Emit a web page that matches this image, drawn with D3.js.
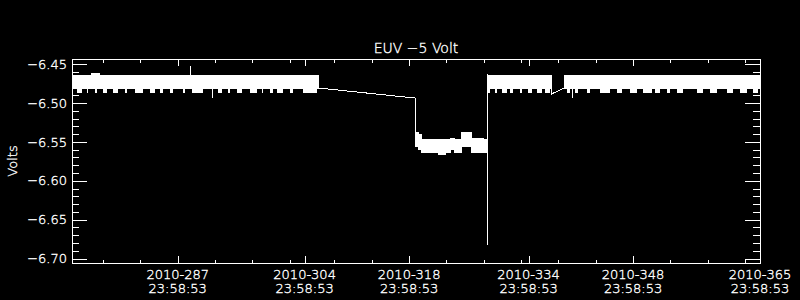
<!DOCTYPE html>
<html><head><meta charset="utf-8">
<script src="https://cdn.jsdelivr.net/npm/d3@7"></script>
<style>
body{margin:0;background:#000}
svg{display:block}
text{font-family:"DejaVu Sans",sans-serif;font-weight:200;fill:#fff;stroke:#fff;stroke-width:0.35px}
</style>
</head><body>
<svg id="c" width="800" height="300"></svg>
<script>
// ---------------- data ----------------
const title = "EUV \u22125 Volt";
const yLabel = "Volts";
const yDomain = [-6.7057, -6.4434];
const yMajor = [-6.70, -6.65, -6.60, -6.55, -6.50, -6.45];
const yMinor = [-6.69,-6.68,-6.67,-6.66,-6.64,-6.63,-6.62,-6.61,-6.59,-6.58,-6.57,-6.56,
                -6.54,-6.53,-6.52,-6.51,-6.49,-6.48,-6.47,-6.46];
const xStartDay = 273.84;                 // 2010 day-of-year at left edge
const xEndDay = 365;                      // right edge = 2010-365 23:58:53
const xMajorDays = [287, 304, 318, 334, 348, 365];
const xMinorDays = [277, 282, 292, 297, 302, 308, 313, 323, 328, 333, 338, 343, 353, 358, 363];

// envelope of the dense record: day-of-year (fractional), upper value, lower value (null = gap)
const bandDay = [273.84, 276.39, 277.46, 306.83, null,
                 319.79, 320.32, 320.59, 322.87, 323.81, 324.48, 325.01, 325.95, 326.62, 326.75, 327.29, 328.90, 329.47, null,
                 329.47, 338.07, null,
                 339.75, 365.999];
const bandHi = [-6.4649, -6.4623, -6.4649, -6.4649, null,
                -6.5373, -6.5407, -6.5472, -6.5472, -6.5472, -6.5450, -6.5472, -6.5373, -6.5429, -6.5373, -6.5450, -6.5472, -6.5472, null,
                -6.4649, -6.4649, null,
                -6.4649, -6.4649];
const bandLo = [-6.4815, -6.4815, -6.4815, -6.4815, null,
                -6.5558, -6.5600, -6.5635, -6.5665, -6.5635, -6.5600, -6.5635, -6.5558, -6.5558, -6.5558, -6.5635, -6.5635, -6.5635, null,
                -6.4815, -6.4815, null,
                -6.4815, -6.4815];

// stretches where the ragged lower edge of the upper band reaches further down
const fuzzStart = [274.47, 275.81, 276.92, 278.03, 279.37, 280.94, 282.28, 284.29, 285.63, 286.97, 288.75, 289.87,
                   293.44, 294.78, 295.90, 297.68, 299.25, 300.36, 301.26, 303.04, 304.82,
                   329.61, 330.50, 331.40, 332.51, 333.85, 334.97, 336.09, 337.20,
                   340.11, 341.22, 342.79, 344.57, 346.81, 348.59, 350.37, 351.94, 353.50, 354.84,
                   357.52, 359.31, 361.54, 363.32, 365.11];
const fuzzEnd   = [275.14, 276.02, 277.15, 278.49, 280.04, 281.17, 283.39, 284.96, 286.08, 287.41, 288.98, 291.43,
                   293.89, 295.01, 296.57, 298.58, 299.47, 300.81, 302.15, 303.48, 306.62,
                   329.84, 330.73, 332.07, 332.96, 334.08, 335.42, 336.76, 337.87,
                   340.55, 341.66, 343.23, 345.91, 347.48, 349.49, 351.50, 352.61, 353.95, 355.73,
                   358.41, 360.20, 362.43, 364.22, 365.78];
const fuzzLo = -6.4868;

// sparse stretches of the record (plain line), separated by null
const lineDay = [306.83, 319.79, 319.79, null,
                 329.47, 329.47, null,
                 338.07, 338.07, 339.75, 339.75];
const lineVal = [-6.4807, -6.4936, -6.5373, null,
                 -6.682, -6.4623, null,
                 -6.4649, -6.4884, -6.4807, -6.4649];

// isolated excursions: day, from value, to value
const spikeDay = [289.65, 292.69, 340.86];
const spikeFrom = [-6.4649, -6.481, -6.481];
const spikeTo = [-6.452, -6.4932, -6.493];

// ---------------- chart ----------------
const W = 800, H = 300;
const L = 72, R = 760, T = 59, B = 263;
const svg = d3.select("#c");
svg.append("rect").attr("width", W).attr("height", H).attr("fill", "#000");

const dayDate = d => new Date(Date.UTC(2010, 0, 1) + (d - 1) * 864e5);
const tickDate = n => new Date(Date.UTC(2010, 0, n, 23, 58, 53));

const x = d3.scaleUtc().domain([dayDate(xStartDay), tickDate(xEndDay)]).range([L, R]);
const y = d3.scaleLinear().domain(yDomain).range([B, T]);

const g = svg.append("g").attr("shape-rendering", "crispEdges");

// data
const idx = d3.range(bandDay.length);
const area = d3.area()
  .defined(i => bandDay[i] !== null)
  .x(i => x(dayDate(bandDay[i])))
  .y0(i => y(bandLo[i]))
  .y1(i => y(bandHi[i]))
  .curve(d3.curveStepAfter);
g.append("path").attr("d", area(idx)).attr("fill", "#fff").attr("stroke", "#fff").attr("stroke-width", 1);

g.selectAll(".fuzz").data(d3.range(fuzzStart.length)).join("rect")
  .attr("x", i => x(dayDate(fuzzStart[i])))
  .attr("width", i => Math.max(1, x(dayDate(fuzzEnd[i])) - x(dayDate(fuzzStart[i]))))
  .attr("y", y(-6.4815))
  .attr("height", y(fuzzLo) - y(-6.4815))
  .attr("fill", "#fff");

const lidx = d3.range(lineDay.length);
const line = d3.line()
  .defined(i => lineDay[i] !== null)
  .x(i => x(dayDate(lineDay[i])))
  .y(i => y(lineVal[i]));
g.append("path").attr("d", line(lidx)).attr("fill", "none").attr("stroke", "#fff").attr("stroke-width", 1);

g.selectAll(".spike").data(d3.range(spikeDay.length)).join("line")
  .attr("x1", i => x(dayDate(spikeDay[i]))).attr("x2", i => x(dayDate(spikeDay[i])))
  .attr("y1", i => y(spikeFrom[i])).attr("y2", i => y(spikeTo[i]))
  .attr("stroke", "#fff").attr("stroke-width", 1);

// axes (box with ticks on all four sides)
const majorDates = xMajorDays.map(tickDate);
const minorDates = xMinorDays.map(tickDate);
const fmtDay = d3.utcFormat("%Y-%j");
const fmtTime = d3.utcFormat("%H:%M:%S");

function styleAxis(sel) {
  sel.selectAll("path,line").attr("stroke", "#fff").attr("stroke-width", 1);
  sel.selectAll("text").remove();
  sel.select(".domain").remove();
}
function ticks(axisFn, scale, vals, size, tx, ty) {
  g.append("g").attr("transform", `translate(${tx},${ty})`)
    .call(axisFn(scale).tickValues(vals).tickSize(size).tickSizeOuter(0).tickFormat(""))
    .call(styleAxis);
}
ticks(d3.axisTop, x, majorDates, 7, 0, B);
ticks(d3.axisTop, x, minorDates, 3.5, 0, B);
ticks(d3.axisBottom, x, majorDates, 7, 0, T);
ticks(d3.axisBottom, x, minorDates, 3.5, 0, T);
ticks(d3.axisRight, y, yMajor, 15, L, 0);
ticks(d3.axisRight, y, yMinor, 7, L, 0);
ticks(d3.axisLeft, y, yMajor, 15, R, 0);
ticks(d3.axisLeft, y, yMinor, 7, R, 0);

// frame
g.append("rect").attr("x", L + 0.5).attr("y", T + 0.5).attr("width", R - L).attr("height", B - T)
  .attr("fill", "none").attr("stroke", "#fff").attr("stroke-width", 1);

// labels
const fs = 13;
const yFmt = d3.format(".2f");
svg.append("g").selectAll("text").data(yMajor).join("text")
  .attr("x", 67).attr("y", d => y(d)).attr("dy", "0.36em")
  .attr("text-anchor", "end").attr("font-size", fs)
  .text(d => yFmt(d));

const xl = svg.append("g").selectAll("text").data(majorDates).join("text")
  .attr("text-anchor", "middle").attr("font-size", fs);
xl.append("tspan").attr("x", d => x(d)).attr("y", 278.5).text(d => fmtDay(d));
xl.append("tspan").attr("x", d => x(d)).attr("y", 293).text(d => fmtTime(d));

svg.append("text").attr("x", (L + R) / 2).attr("y", 52.7).attr("text-anchor", "middle")
  .attr("font-size", 14).text(title);

svg.append("text").attr("transform", `translate(17,${(T + B) / 2}) rotate(-90)`)
  .attr("text-anchor", "middle").attr("font-size", fs).text(yLabel);
</script>
</body></html>
